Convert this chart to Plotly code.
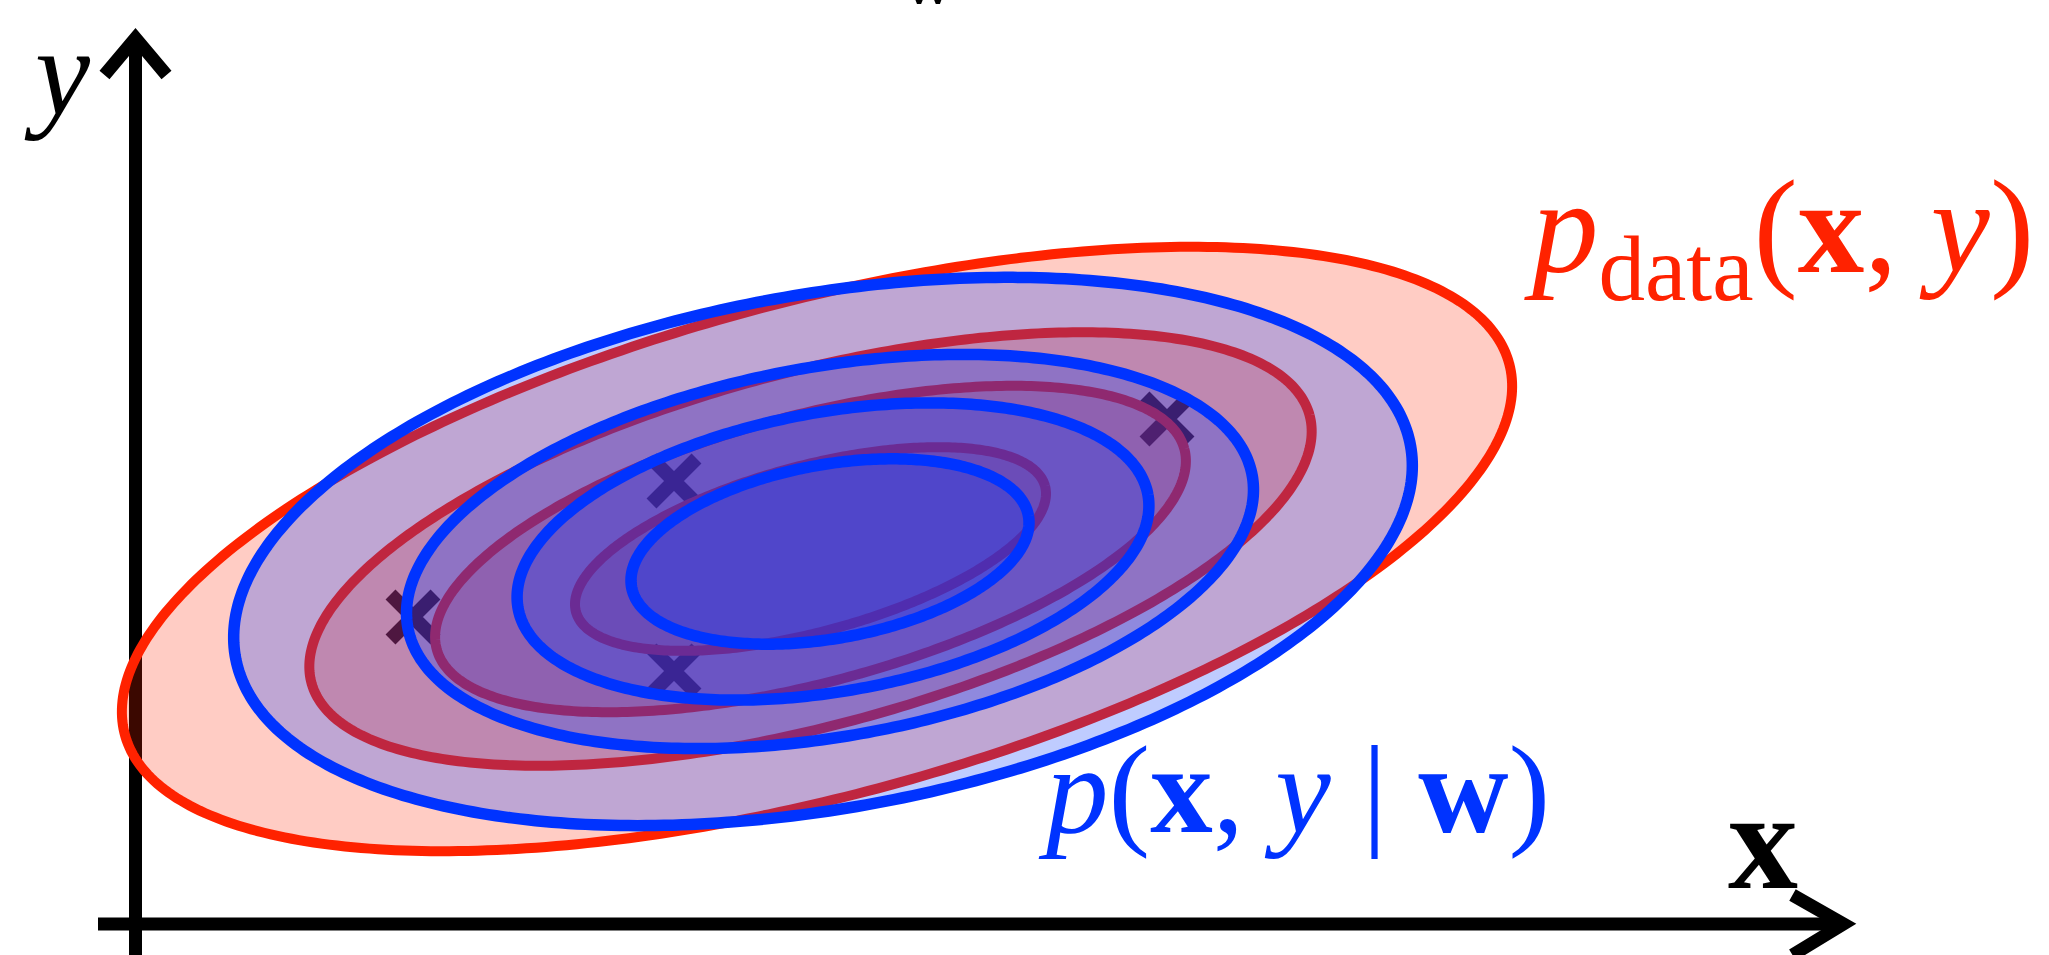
import numpy as np
import plotly.graph_objects as go

# ---- data (units: pixels relative to the axes origin, y upward) ----
red_cx = [681.5, 675, 675, 675]
red_cy = [375, 375, 375, 375]
red_a = [716.6, 516.7, 387.0, 242.8]
red_b = [247.0, 176.6, 133.4, 83.0]
red_angle = [15, 15, 15, 15]

blue_cx = [687.5, 694.5, 697.5, 694.5]
blue_cy = [372.5, 372.5, 372.5, 372.5]
blue_a = [597.0, 429.0, 320.0, 201.6]
blue_b = [257.0, 184.8, 139.6, 86.9]
blue_angle = [10.2, 10.2, 10.2, 10.2]

sample_x = [277.5, 538.5, 538.5, 1031.5]
sample_y = [307.0, 443.0, 253.0, 505.0]

RED = "#ff2200"
BLUE = "#0033ff"
RED_FILL = "rgba(255,34,0,0.23)"
BLUE_FILL = "rgba(0,51,255,0.25)"
SERIF = "Liberation Serif, Times New Roman, serif"


def ellipse(cx, cy, a, b, ang, n=400):
    t = np.linspace(0, 2 * np.pi, n)
    th = np.deg2rad(ang)
    x = cx + a * np.cos(t) * np.cos(th) - b * np.sin(t) * np.sin(th)
    y = cy + a * np.cos(t) * np.sin(th) + b * np.sin(t) * np.cos(th)
    return x, y


fig = go.Figure()

# sample points (drawn first, under the density fills)
fig.add_trace(go.Scatter(
    x=sample_x, y=sample_y, mode="markers", hoverinfo="skip",
    marker=dict(symbol="x-thin-open", size=45, color="black",
                line=dict(color="black", width=14)),
    showlegend=False))

for cx, cy, a, b, ang in zip(red_cx, red_cy, red_a, red_b, red_angle):
    x, y = ellipse(cx, cy, a, b, ang)
    fig.add_trace(go.Scatter(x=x, y=y, mode="lines", fill="toself",
                             fillcolor=RED_FILL,
                             line=dict(color=RED, width=10, simplify=False),
                             hoverinfo="skip", showlegend=False))

for cx, cy, a, b, ang in zip(blue_cx, blue_cy, blue_a, blue_b, blue_angle):
    x, y = ellipse(cx, cy, a, b, ang)
    fig.add_trace(go.Scatter(x=x, y=y, mode="lines", fill="toself",
                             fillcolor=BLUE_FILL,
                             line=dict(color=BLUE, width=11.5, simplify=False),
                             hoverinfo="skip", showlegend=False))

# axes with arrows
ax_line = dict(color="black", width=13)
shapes = [
    dict(type="line", x0=0, y0=-40, x1=0, y1=885, line=ax_line, layer="below"),
    dict(type="path", path="M -31,849 L 0,886 L 31,849", line=ax_line, layer="below"),
    dict(type="line", x0=-37.5, y0=0, x1=1706, y1=0, line=ax_line, layer="below"),
    dict(type="path", path="M 1657,29 L 1708,0 L 1657,-31", line=ax_line, layer="below"),
]

annotations = [
    dict(x=-78, y=852, text="<i>y</i>", showarrow=False,
         font=dict(family=SERIF, size=124, color="black"),
         xanchor="center", yanchor="middle"),
    dict(x=1627, y=84, text="<b>x</b>", showarrow=False,
         font=dict(family=SERIF, size=140, color="black"),
         xanchor="center", yanchor="middle"),
    dict(x=1643, y=688, text="<i>p</i><sub>data</sub>(<b>x</b>, <i>y</i>)",
         showarrow=False, font=dict(family=SERIF, size=133, color=RED),
         xanchor="center", yanchor="middle"),
    dict(x=1158.5, y=134, text="<i>p</i>(<b>x</b>, <i>y</i> | <b>w</b>)",
         showarrow=False, font=dict(family=SERIF, size=125, color=BLUE),
         xanchor="center", yanchor="middle"),
    dict(x=792.5, xref="x", y=1.0 - 20 / 955, yref="paper", text="<b>w</b>",
         showarrow=False, font=dict(family=SERIF, size=70, color="black"),
         xanchor="center", yanchor="bottom"),
]

fig.update_layout(
    width=2049, height=955,
    margin=dict(l=0, r=0, t=0, b=0),
    paper_bgcolor="white", plot_bgcolor="white",
    xaxis=dict(range=[-135.5, 1913.5], visible=False, fixedrange=True),
    yaxis=dict(range=[-31, 924], visible=False, fixedrange=True),
    shapes=shapes, annotations=annotations,
    showlegend=False,
)

fig.write_html("out.html", config={"displayModeBar": False},
               post_script="document.body.style.margin='0';document.body.style.overflow='hidden';")
